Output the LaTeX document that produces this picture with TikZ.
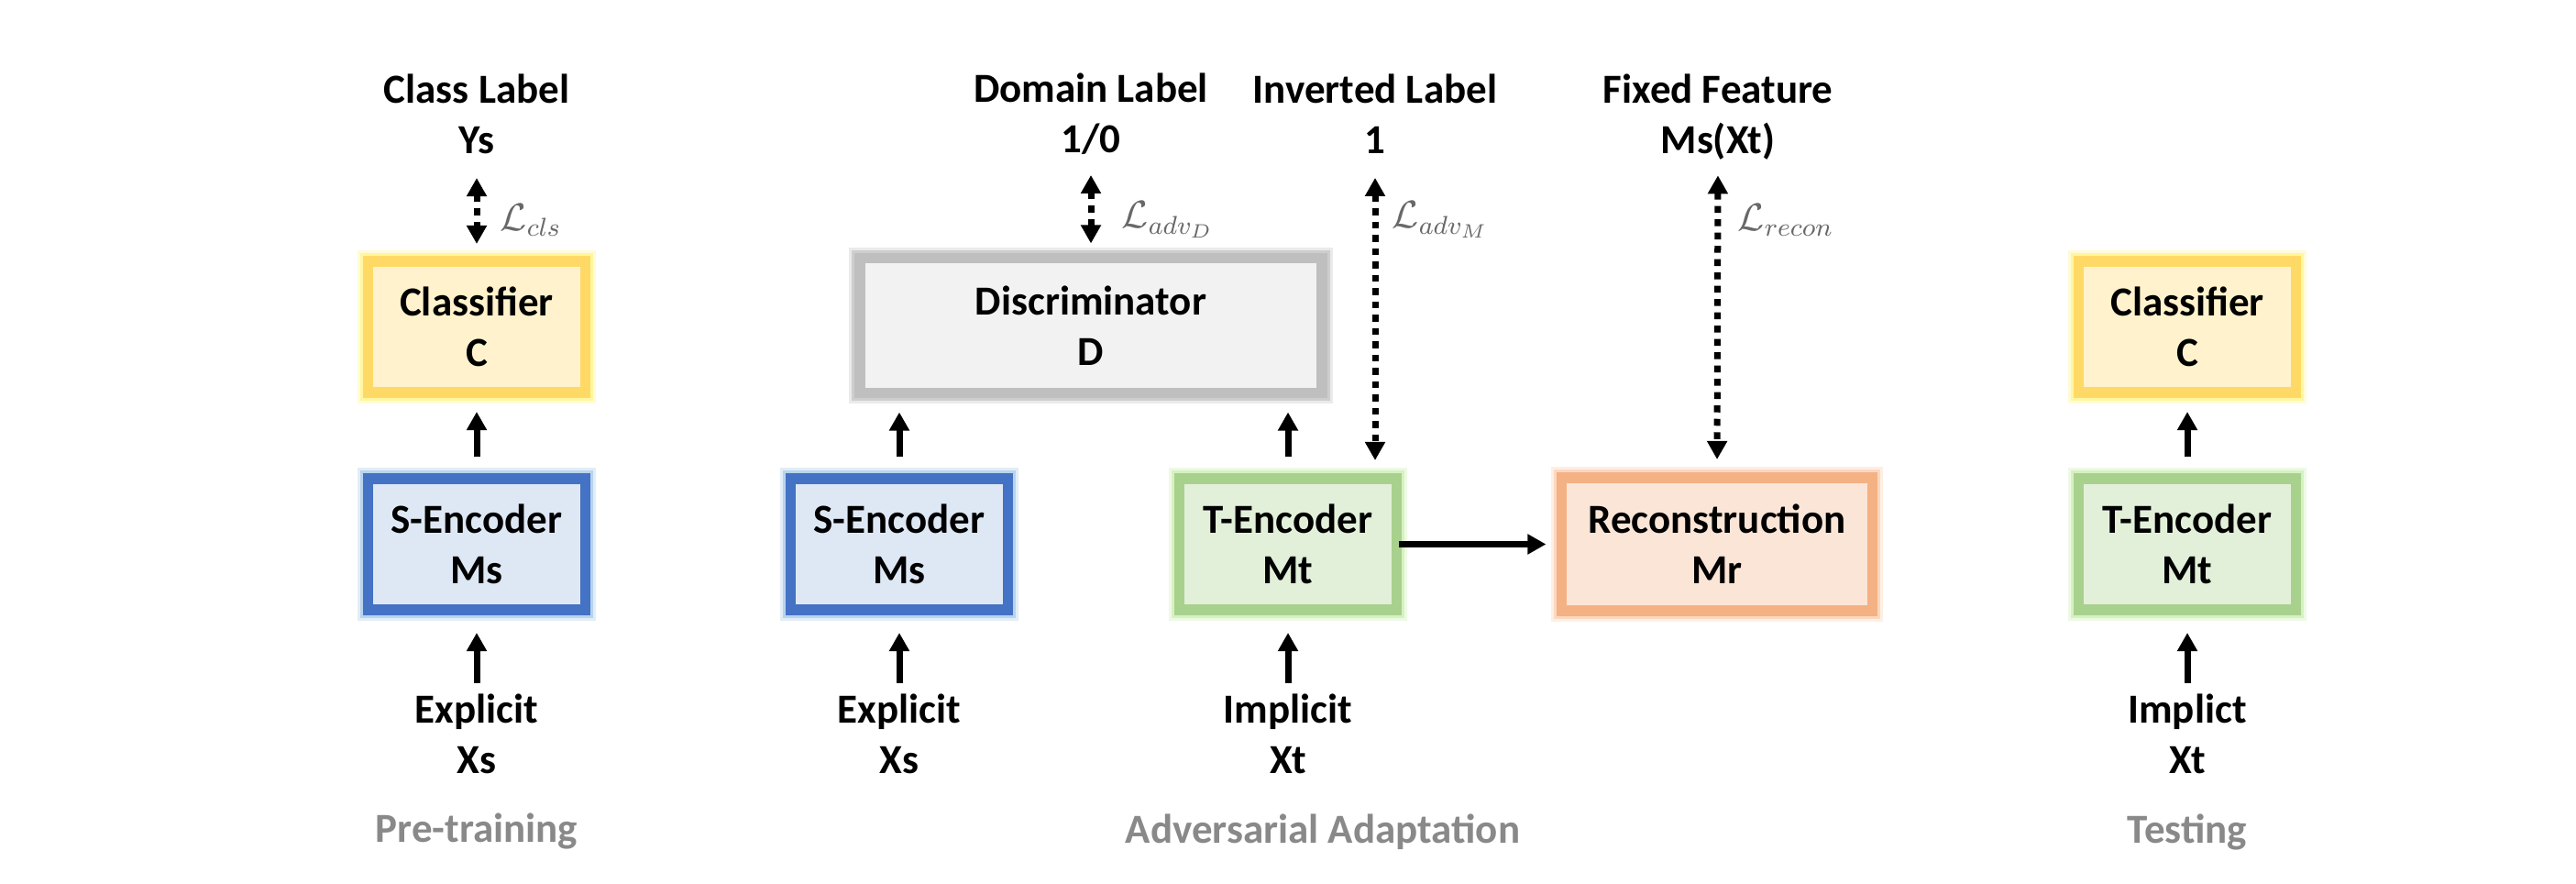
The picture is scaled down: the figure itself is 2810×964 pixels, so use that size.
\documentclass[tikz,border=0pt]{standalone}
\usepackage[no-math]{fontspec}
\setmainfont{Carlito}
\usetikzlibrary{arrows.meta}
\definecolor{goldB}{HTML}{FFD966}
\definecolor{goldF}{HTML}{FFF2CC}
\definecolor{goldG}{HTML}{FFF27A}
\definecolor{blueB}{HTML}{4472C4}
\definecolor{blueF}{HTML}{DEE8F5}
\definecolor{blueG}{HTML}{9DC3E6}
\definecolor{grayB}{HTML}{BFBFBF}
\definecolor{grayF}{HTML}{F2F2F2}
\definecolor{grayG}{HTML}{BBBBBB}
\definecolor{greenB}{HTML}{A9D18E}
\definecolor{greenF}{HTML}{E2F0D9}
\definecolor{greenG}{HTML}{C6EBA8}
\definecolor{orangeB}{HTML}{F4B183}
\definecolor{orangeF}{HTML}{FBE5D6}
\definecolor{orangeG}{HTML}{FBC9A6}
\definecolor{stageC}{HTML}{898989}
\definecolor{lossC}{HTML}{686868}
\newcommand{\lblfont}{\fontsize{12.8}{15.6}\selectfont\bfseries}
\tikzset{
  box/.style={draw=#1B, fill=#1F, line width=0.115cm, inner sep=0pt, align=center, font=\lblfont,
    preaction={draw=#1G, line width=0.235cm, draw opacity=0.3},
    preaction={draw=#1G, line width=0.175cm, draw opacity=0.6}},
  smallbox/.style={minimum width=2.365cm, minimum height=1.425cm},
  lbl/.style={align=center, font=\lblfont, inner sep=0pt},
  stage/.style={font=\lblfont, text=stageC, inner sep=0pt},
  loss/.style={font=\fontsize{11.5}{13}\selectfont, text=lossC, inner sep=0pt, anchor=west},
  arr/.style={line width=0.07cm, -{Triangle[length=0.2cm,width=0.21cm]}},
  dotarr/.style={line width=0.07cm, dash pattern=on 0.075cm off 0.07cm,
    {Triangle[length=0.2cm,width=0.21cm]}-{Triangle[length=0.2cm,width=0.21cm]}},
}
\begin{document}
\begin{tikzpicture}[x=0.01cm,y=-0.01cm]
\useasboundingbox (0,0) rectangle (2810,964);

% ---------- boxes ----------
\node[box=gold, smallbox] (C1) at (520,356.5) {Classifier\\C};
\node[box=blue, smallbox] (S1) at (520,593.5) {S-Encoder\\Ms};

\node[box=gray, minimum width=5.035cm, minimum height=1.465cm] (D) at (1190,355) {Discriminator\\D};
\node[box=blue, smallbox] (S2) at (981,593.5) {S-Encoder\\Ms};
\node[box=green, smallbox] (T2) at (1405,593.5) {T-Encoder\\Mt};
\node[box=orange, minimum width=3.385cm, minimum height=1.445cm] (R) at (1873,593.5) {Reconstruction\\Mr};

\node[box=gold, smallbox] (C3) at (2386,356.5) {Classifier\\C};
\node[box=green, smallbox] (T3) at (2386,593.5) {T-Encoder\\Mt};

% ---------- top labels ----------
\node[lbl] (lC) at (520,124) {Class Label\\Ys};
\node[lbl] (lD) at (1190,124) {Domain Label\\1/0};
\node[lbl] (lI) at (1500,124) {Inverted Label\\1};
\node[lbl] (lF) at (1874,128) {Fixed Feature\\Ms(Xt)};

% ---------- inputs ----------
\node[lbl] (in1) at (520,800) {Explicit\\Xs};
\node[lbl] (in2) at (981,800) {Explicit\\Xs};
\node[lbl] (in3) at (1405,800) {Implicit\\Xt};
\node[lbl] (in4) at (2386,800) {Implict\\Xt};

% ---------- stage labels ----------
\node[stage] (st1) at (520,907) {Pre-training};
\node[stage] (st2) at (1443,907) {Adversarial Adaptation};
\node[stage] (st3) at (2386,907) {Testing};

% ---------- loss labels ----------
\node[loss] (L1) at (545,240) {$\mathcal{L}_{cls}$};
\node[loss] (L2) at (1223,240) {$\mathcal{L}_{adv_D}$};
\node[loss] (L3) at (1518,240) {$\mathcal{L}_{adv_M}$};
\node[loss] (L4) at (1895,240) {$\mathcal{L}_{recon}$};

% ---------- dotted loss arrows ----------
\draw[dotarr, shorten <=0.26cm, shorten >=0.135cm] (lC.south) -- (C1.north);
\draw[dotarr, shorten <=0.22cm, shorten >=0.105cm] (lD.south) -- (D.north);
\draw[dotarr, shorten <=0.26cm, shorten >=0.145cm] (lI.south) -- (lI.south |- T2.north);
\draw[dotarr, shorten <=0.16cm, shorten >=0.145cm] (lF.south) -- (R.north);

% ---------- solid arrows ----------
\draw[arr, shorten <=0.185cm, shorten >=0.155cm] (S1.north) -- (C1.south);
\draw[arr, shorten <=0.11cm, shorten >=0.195cm] (in1.north) -- (S1.south);

\draw[arr, shorten <=0.185cm, shorten >=0.155cm] (S2.north) -- (S2.north |- D.south);
\draw[arr, shorten <=0.185cm, shorten >=0.155cm] (T2.north) -- (T2.north |- D.south);
\draw[arr, shorten <=0.11cm, shorten >=0.195cm] (in2.north) -- (S2.south);
\draw[arr, shorten <=0.11cm, shorten >=0.195cm] (in3.north) -- (T2.south);
\draw[arr, shorten <=-0.03cm, shorten >=0.115cm] (T2.east) -- (R.west);

\draw[arr, shorten <=0.185cm, shorten >=0.155cm] (T3.north) -- (C3.south);
\draw[arr, shorten <=0.11cm, shorten >=0.195cm] (in4.north) -- (T3.south);
\end{tikzpicture}
\end{document}
